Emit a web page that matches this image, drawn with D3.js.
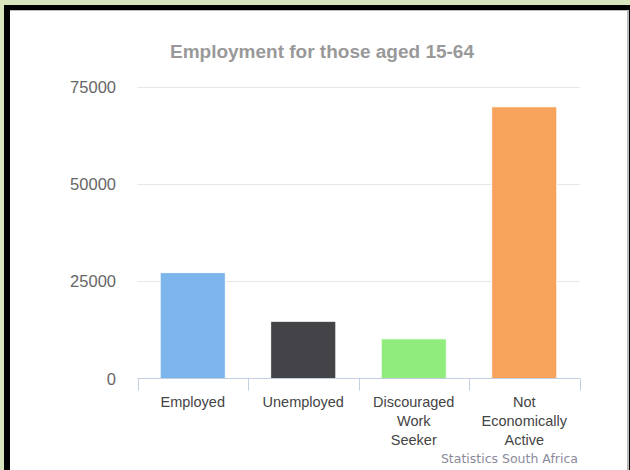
<!DOCTYPE html>
<html><head><meta charset="utf-8">
<script src="https://cdn.jsdelivr.net/npm/d3@7"></script>
<style>html,body{margin:0;padding:0;background:#d8e4bc;}svg{display:block;}</style>
</head><body>
<svg id="c" width="630" height="470"></svg>
<script>
const categories = [["Employed"], ["Unemployed"], ["Discouraged", "Work", "Seeker"], ["Not", "Economically", "Active"]];
const values = [27200, 14700, 10200, 69800];
const colors = ["#7cb5ec", "#434348", "#90ed7d", "#f7a35c"];
const yTicks = [0, 25000, 50000, 75000];
const title = "Employment for those aged 15-64";
const credit = "Statistics South Africa";

const svg = d3.select("#c");
svg.append("rect").attr("x", 0).attr("y", 0).attr("width", 630).attr("height", 470).attr("fill", "#d8e4bc");
svg.append("rect").attr("x", 4).attr("y", 5).attr("width", 626).attr("height", 465).attr("fill", "#000");
svg.append("rect").attr("x", 10).attr("y", 10).attr("width", 619).attr("height", 460).attr("fill", "#bbb");
svg.append("rect").attr("x", 10).attr("y", 11).attr("width", 617).attr("height", 459).attr("fill", "#fff");

const x = d3.scaleBand().domain(d3.range(categories.length)).range([137.5, 579.5]).paddingInner(0.41).paddingOuter(0.205);
const xb = d3.scaleBand().domain(d3.range(categories.length)).range([137.5, 579.5]);
const y = d3.scaleLinear().domain([0, 75000]).range([378.5, 86.5]);

// gridlines
svg.append("g").selectAll("line").data(yTicks.slice(1)).join("line")
  .attr("x1", 137.5).attr("x2", 579.5)
  .attr("y1", d => Math.round(y(d)) + 0.5).attr("y2", d => Math.round(y(d)) + 0.5)
  .attr("stroke", "#e6e6e6").attr("stroke-width", 1);

// y labels
const yAxis = d3.axisLeft(y).tickValues(yTicks).tickSize(0).tickPadding(0).tickFormat(d3.format("d"));
const gy = svg.append("g").attr("transform", "translate(116,0)").call(yAxis);
gy.select(".domain").remove();
gy.selectAll("text").attr("font-family", "Liberation Sans, Arial, sans-serif").attr("font-size", 16.5).attr("fill", "#666").attr("dy", "0.35em");

// bars
svg.append("g").selectAll("rect").data(values).join("rect")
  .attr("x", (d, i) => x(i)).attr("width", x.bandwidth())
  .attr("y", d => y(d)).attr("height", d => y(0) - y(d))
  .attr("fill", (d, i) => colors[i]).attr("stroke", "#fff").attr("stroke-width", 1);

// x axis
const xAxis = d3.axisBottom(xb).tickSize(0).tickFormat("");
const gx = svg.append("g").attr("transform", "translate(0,378.5)").call(xAxis);
gx.select(".domain").remove();
gx.append("line").attr("x1", 137.5).attr("x2", 579.5).attr("y1", 0).attr("y2", 0).attr("stroke", "#c0d0e0");
const bounds = d3.range(categories.length + 1).map(i => i < categories.length ? xb(i) : xb(categories.length - 1) + xb.bandwidth());
gx.selectAll(".tk").data(bounds).join("line").attr("class", "tk")
  .attr("x1", d => Math.round(d) + 0.5).attr("x2", d => Math.round(d) + 0.5)
  .attr("y1", 0).attr("y2", 12).attr("stroke", "#c0d0e0");

const lab = svg.append("g").selectAll("text").data(categories).join("text")
  .attr("x", (d, i) => xb(i) + xb.bandwidth() / 2).attr("y", 407)
  .attr("text-anchor", "middle").attr("font-family", "Liberation Sans, Arial, sans-serif")
  .attr("font-size", 14.5).attr("fill", "#444");
lab.selectAll("tspan").data(d => d).join("tspan")
  .attr("x", function () { return this.parentNode.getAttribute("x"); })
  .attr("dy", (d, i) => i === 0 ? 0 : 19).text(d => d);

svg.append("text").attr("x", 322).attr("y", 58).attr("text-anchor", "middle")
  .attr("font-family", "Liberation Sans, Arial, sans-serif").attr("font-weight", "bold")
  .attr("font-size", 18).attr("textLength", 304).attr("lengthAdjust", "spacingAndGlyphs")
  .attr("fill", "#999").text(title);

svg.append("text").attr("x", 578).attr("y", 463).attr("text-anchor", "end")
  .attr("font-family", "DejaVu Sans, sans-serif").attr("font-size", 12.5).attr("fill", "#8a8a9a").text(credit);
</script>
</body></html>
